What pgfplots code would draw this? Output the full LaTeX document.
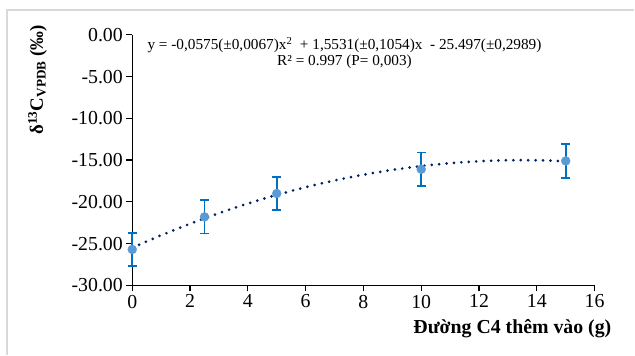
\documentclass[border=0pt]{standalone}
\usepackage{pgfplots}
\pgfplotsset{compat=1.18}
\usepackage{fontspec}
\setmainfont{Liberation Serif}
\definecolor{mk}{HTML}{5B9BD5}
\definecolor{eb}{HTML}{0070C0}
\definecolor{tl}{HTML}{002060}
\begin{document}
\begin{tikzpicture}
\begin{axis}[
  scale only axis, width=465bp, height=252bp,
  xmin=0, xmax=16, ymin=-30, ymax=0,
  xtick={0,2,...,16}, ytick={-30,-25,...,0},
  xticklabels={\textrm{0},\textrm{2},\textrm{4},\textrm{6},\textrm{8},\textrm{10},\textrm{12},\textrm{14},\textrm{16}},
  yticklabels={\textrm{-30.00},\textrm{-25.00},\textrm{-20.00},\textrm{-15.00},\textrm{-10.00},\textrm{-5.00},\textrm{0.00}},
  axis x line=bottom, axis y line=left,
  axis line style={-, line width=1.3pt, black},
  tick style={line width=1.3pt, black},
  tick align=outside, major tick length=6bp,
  tick label style={font=\fontsize{20}{23}\selectfont},
  clip=false,
]
\addplot[tl, line width=3pt, dash pattern=on 0pt off 7.5pt, line cap=round] coordinates {
(0,-25.497)(0.5,-24.735)(1,-24.001)(1.5,-23.297)(2,-22.621)(2.5,-21.974)(3,-21.355)
(3.5,-20.766)(4,-20.205)(4.5,-19.672)(5,-19.169)(5.5,-18.694)(6,-18.248)(6.5,-17.831)
(7,-17.443)(7.5,-17.083)(8,-16.752)(8.5,-16.450)(9,-16.177)(9.5,-15.932)(10,-15.716)
(10.5,-15.529)(11,-15.370)(11.5,-15.241)(12,-15.140)(12.5,-15.068)(13,-15.024)
(13.5,-15.010)(14,-15.024)(14.5,-15.066)(15,-15.138)};
\addplot[only marks, mark=*, mark size=4.5bp, mark options={fill=mk, draw=mk},
  error bars/.cd, y dir=both, y explicit,
  error bar style={eb, line width=1.8pt},
  error mark options={eb, line width=1.8pt, mark size=4.5bp, rotate=90}]
  coordinates {
  (0,-25.7) +- (0,2.0)
  (2.5,-21.8) +- (0,2.0)
  (5,-19.0) +- (0,2.0)
  (10,-16.1) +- (0,2.0)
  (15,-15.1) +- (0,2.0)
};
\node[font=\fontsize{15.4}{16}\selectfont, anchor=north, align=center, inner sep=0pt]
  at (rel axis cs:0.459,0.99)
  {y = -0,0575(±0,0067)x\textsuperscript{2}\ \ + 1,5531(±0,1054)x\ \ - 25.497(±0,2989)\\ R² = 0.997 (P= 0,003)};
\node[font=\bfseries\fontsize{20}{23}\selectfont, anchor=north east, inner sep=0pt]
  at ([xshift=17bp, yshift=-34bp]rel axis cs:1,0) {Đường C4 thêm vào (g)};
\node[font=\bfseries\fontsize{19}{22}\selectfont, rotate=90, anchor=north east, inner sep=0pt]
  at ([xshift=-105bp, yshift=10bp]rel axis cs:0,1) {δ\textsuperscript{13}C\textsubscript{VPDB} (‰)};
\draw[gray!30, line width=1.2pt] ([xshift=-126bp, yshift=-70bp]rel axis cs:0,0) -- ([xshift=-126bp, yshift=25bp]rel axis cs:0,1) -- ([xshift=40bp, yshift=25bp]rel axis cs:1,1);
\path[use as bounding box] ([xshift=-133bp, yshift=35bp]rel axis cs:0,1) rectangle ([xshift=502bp, yshift=-321bp]rel axis cs:0,1);
\end{axis}
\end{tikzpicture}
\end{document}
